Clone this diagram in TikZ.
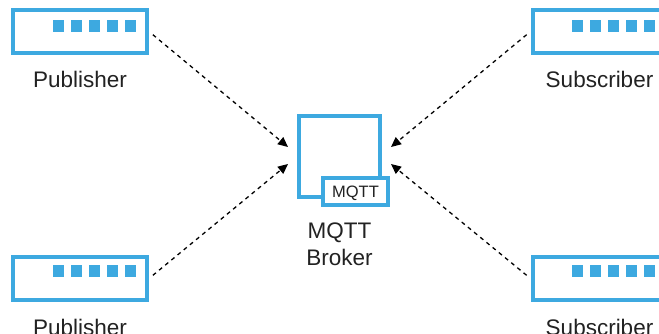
\documentclass[tikz,border=0pt]{standalone}
\usepackage{fontspec}
\setmainfont{Liberation Sans}
\usetikzlibrary{arrows.meta}
\definecolor{mqblue}{HTML}{3DA9E0}
\definecolor{txt}{HTML}{222222}
\tikzset{
  devbox/.style={draw=mqblue, line width=4pt, fill=white, inner sep=0pt, minimum width=134pt, minimum height=43pt},
  dotsq/.style={fill=mqblue, inner sep=0pt, minimum width=11pt, minimum height=12pt},
  lbl/.style={anchor=base, text=txt, font=\fontsize{22.5pt}{27pt}\selectfont, inner sep=0pt},
  link/.style={black, line width=1.3pt, dash pattern=on 4pt off 4pt, -{Triangle[length=10pt,width=9pt]}, shorten <=5pt}
}
\begin{document}
\begin{tikzpicture}[x=1pt,y=-1pt]
\useasboundingbox (0,0) rectangle (659,334);
\clip (0,0) rectangle (659,334);
\fill[white] (0,0) rectangle (659,334);
% devices
\node[devbox] (pub1) at (80,31.5) {};
\node[devbox] (pub2) at (80,278.5) {};
\node[devbox] (sub1) at (599.5,31.5) {};
\node[devbox] (sub2) at (599.5,278.5) {};
\foreach \i in {0,...,4}{
  \node[dotsq] (pub1d\i) at (58.5+18*\i,26) {};
  \node[dotsq] (pub2d\i) at (58.5+18*\i,271) {};
  \node[dotsq] (sub1d\i) at (577.5+18*\i,26) {};
  \node[dotsq] (sub2d\i) at (577.5+18*\i,271) {};
}
\node[lbl] (pub1l) at (80,88) {Publisher};
\node[lbl] (pub2l) at (80,335) {Publisher};
\node[lbl] (sub1l) at (599.5,88) {Subscriber};
\node[lbl] (sub2l) at (599.5,335) {Subscriber};
% broker
\node[draw=mqblue, line width=4pt, fill=white, inner sep=0pt, minimum size=81pt] (broker) at (339.5,156.5) {};
\node[devbox, minimum width=65pt, minimum height=27pt, text=txt, font=\fontsize{16.5pt}{18pt}\selectfont, text height=12pt, text depth=0pt] (mqtt) at (355.5,191.5) {MQTT};
\node[lbl] (brokerl1) at (339.5,238) {MQTT};
\node[lbl] (brokerl2) at (339.5,265) {Broker};
% arrow targets
\coordinate (inL1) at (288,147);
\coordinate (inL2) at (288,164);
\coordinate (inR1) at (391,147);
\coordinate (inR2) at (391,164);
\draw[link] (pub1.east) -- (inL1);
\draw[link] (pub2.east) -- (inL2);
\draw[link] (sub1.west) -- (inR1);
\draw[link] (sub2.west) -- (inR2);
\end{tikzpicture}
\end{document}
